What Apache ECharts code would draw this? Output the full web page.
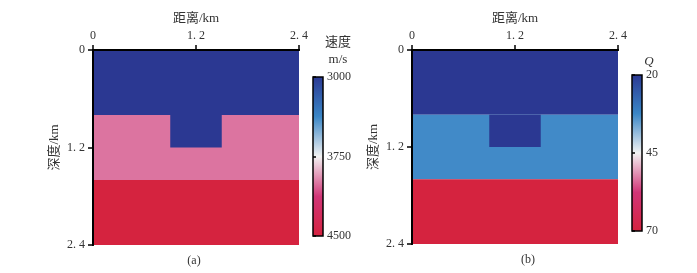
<!DOCTYPE html>
<html>
<head>
<meta charset="utf-8">
<script src="https://cdn.jsdelivr.net/npm/echarts@6/dist/echarts.min.js"></script>
<style>
html, body { margin: 0; padding: 0; background: #fff; }
#main { width: 697px; height: 273px; }
</style>
</head>
<body>
<div id="main"></div>
<script>
// 距离/深度刻度
var distTicks = [0, 1.2, 2.4]
var distTickLabels = ['0', '1. 2', '2. 4']
var depthTicks = [0, 1.2, 2.4]
var depthTickLabels = ['0', '1. 2', '2. 4']

// 模型块: [x0, x1, z0, z1, 值]
var velBlocks = [
  [0, 2.4, 0, 0.8, 3000],
  [0, 2.4, 0.8, 1.6, 4000],
  [0, 2.4, 1.6, 2.4, 4500],
  [0.9, 1.5, 0.8, 1.2, 3000]
]
var qBlocks = [
  [0, 2.4, 0, 0.8, 20],
  [0, 2.4, 0.8, 1.6, 33],
  [0, 2.4, 1.6, 2.4, 70],
  [0.9, 1.5, 0.8, 1.2, 20]
]

// 色标
var velRange = [3000, 4500]
var velTicks = [3000, 3750, 4500]
var qRange = [20, 70]
var qTicks = [20, 45, 70]

var cmap = ['#2b3892', '#3a86c6', '#f2f2f2', '#d13577', '#d5233f']
var serif = 'Liberation Serif, Noto Sans CJK SC'
var txt = '#333'

function blockItem(params, api) {
  var p0 = api.coord([api.value(0), api.value(2)])
  var p1 = api.coord([api.value(1), api.value(3)])
  return {
    type: 'rect',
    shape: { x: p0[0], y: p0[1], width: p1[0] - p0[0], height: p1[1] - p0[1] },
    style: { fill: api.visual('color') }
  }
}

function barItem(params, api) {
  var p0 = api.coord([api.value(0), api.value(2)])
  var p1 = api.coord([api.value(1), api.value(3)])
  var stops = cmap.map(function (c, i) {
    return { offset: i / (cmap.length - 1), color: c }
  })
  return {
    type: 'rect',
    shape: { x: p0[0], y: p0[1], width: p1[0] - p0[0], height: p1[1] - p0[1] },
    style: {
      fill: new echarts.graphic.LinearGradient(0, 0, 0, 1, stops),
      stroke: '#000',
      lineWidth: 1.5
    }
  }
}

function topAxis(grid) {
  return {
    gridIndex: grid, type: 'value', position: 'top', min: 0, max: 2.4, interval: 1.2, z: 5,
    name: '距离/km', nameLocation: 'middle', nameGap: 24,
    nameTextStyle: { fontFamily: serif, fontSize: 13, color: txt },
    axisLine: { lineStyle: { color: '#000', width: 2 } },
    axisTick: { length: 5, lineStyle: { color: '#000', width: 1.5 } },
    axisLabel: {
      margin: 8, fontFamily: serif, fontSize: 12, color: txt,
      formatter: function (v) { return distTickLabels[distTicks.indexOf(v)] }
    },
    splitLine: { show: false }
  }
}
function bottomAxis(grid) {
  return {
    gridIndex: grid, type: 'value', position: 'bottom', min: 0, max: 2.4, z: 5,
    axisLine: { lineStyle: { color: '#000', width: 2 } },
    axisTick: { show: false }, axisLabel: { show: false }, splitLine: { show: false }
  }
}
function leftAxis(grid) {
  return {
    gridIndex: grid, type: 'value', position: 'left', inverse: true, min: 0, max: 2.4, interval: 1.2, z: 5,
    name: '深度/km', nameLocation: 'middle', nameGap: 32, nameRotate: 90,
    nameTextStyle: { fontFamily: serif, fontSize: 13, color: txt },
    axisLine: { lineStyle: { color: '#000', width: 2 } },
    axisTick: { length: 5, lineStyle: { color: '#000', width: 1.5 } },
    axisLabel: {
      margin: 8, fontFamily: serif, fontSize: 12, color: txt,
      formatter: function (v) { return depthTickLabels[depthTicks.indexOf(v)] }
    },
    splitLine: { show: false }
  }
}
function rightAxis(grid) {
  return {
    gridIndex: grid, type: 'value', position: 'right', inverse: true, min: 0, max: 2.4, z: 5,
    axisLine: { lineStyle: { color: '#000', width: 2 } },
    axisTick: { show: false }, axisLabel: { show: false }, splitLine: { show: false }
  }
}
function barX(grid) {
  return { gridIndex: grid, type: 'value', min: 0, max: 1, show: false }
}
function barY(grid, range, ticks) {
  return {
    gridIndex: grid, type: 'value', position: 'right', inverse: true, min: range[0], max: range[1], z: 5,
    axisLine: { show: false },
    axisTick: { show: true, length: 3, customValues: ticks, lineStyle: { color: '#000', width: 1.5 } },
    axisLabel: {
      margin: 4, customValues: ticks, fontFamily: serif, fontSize: 12, color: txt,
      formatter: function (v) { return String(v) }
    },
    splitLine: { show: false }
  }
}

var myChart = echarts.init(document.getElementById('main'))
myChart.setOption({
  backgroundColor: '#fff',
  animation: false,
  grid: [
    { left: 93, top: 50, width: 206, height: 195 },
    { left: 412, top: 50, width: 206, height: 194 },
    { left: 313, top: 77, width: 10, height: 159 },
    { left: 632, top: 75, width: 10, height: 156 }
  ],
  xAxis: [topAxis(0), bottomAxis(0), topAxis(1), bottomAxis(1), barX(2), barX(3)],
  yAxis: [leftAxis(0), rightAxis(0), leftAxis(1), rightAxis(1),
    barY(2, velRange, velTicks), barY(3, qRange, qTicks)],
  visualMap: [
    { show: false, seriesIndex: 0, dimension: 4, min: velRange[0], max: velRange[1], inRange: { color: cmap } },
    { show: false, seriesIndex: 1, dimension: 4, min: qRange[0], max: qRange[1], inRange: { color: cmap } }
  ],
  series: [
    { type: 'custom', xAxisIndex: 0, yAxisIndex: 0, renderItem: blockItem, encode: { x: [0, 1], y: [2, 3] }, data: velBlocks },
    { type: 'custom', xAxisIndex: 2, yAxisIndex: 2, renderItem: blockItem, encode: { x: [0, 1], y: [2, 3] }, data: qBlocks },
    { type: 'custom', xAxisIndex: 4, yAxisIndex: 4, renderItem: barItem, encode: { x: [0, 1], y: [2, 3] }, data: [[0, 1, velRange[0], velRange[1]]] },
    { type: 'custom', xAxisIndex: 5, yAxisIndex: 5, renderItem: barItem, encode: { x: [0, 1], y: [2, 3] }, data: [[0, 1, qRange[0], qRange[1]]] }
  ],
  graphic: [
    { type: 'text', x: 338, y: 43, style: { text: '速度', font: '13px ' + serif, fill: txt, align: 'center', verticalAlign: 'middle' } },
    { type: 'text', x: 338, y: 60, style: { text: 'm/s', font: '13px ' + serif, fill: txt, align: 'center', verticalAlign: 'middle' } },
    { type: 'text', x: 649, y: 62, style: { text: 'Q', font: 'italic 13px ' + serif, fill: txt, align: 'center', verticalAlign: 'middle' } },
    { type: 'text', x: 194, y: 261, style: { text: '(a)', font: '12px ' + serif, fill: txt, align: 'center', verticalAlign: 'middle' } },
    { type: 'text', x: 528, y: 260, style: { text: '(b)', font: '12px ' + serif, fill: txt, align: 'center', verticalAlign: 'middle' } }
  ]
})
</script>
</body>
</html>
